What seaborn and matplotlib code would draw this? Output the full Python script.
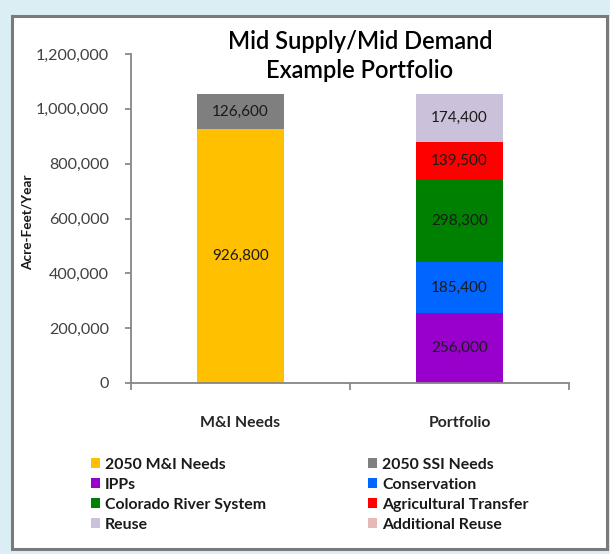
import matplotlib
matplotlib.use("Agg")
import matplotlib.pyplot as plt
from matplotlib.patches import Rectangle, Patch
from matplotlib.ticker import FuncFormatter
import seaborn as sns
import pandas as pd
import numpy as np

# ---- data ----
categories = ["M&I Needs", "Portfolio"]
segments = ["2050 M&I Needs", "2050 SSI Needs", "IPPs", "Conservation",
            "Colorado River System", "Agricultural Transfer", "Reuse", "Additional Reuse"]
seg_category = ["M&I Needs", "M&I Needs", "Portfolio", "Portfolio",
                "Portfolio", "Portfolio", "Portfolio", "Portfolio"]
seg_values = [926800, 126600, 256000, 185400, 298300, 139500, 174400, 0]
seg_colors = ["#FFC000", "#7F7F7F", "#9900CC", "#0066FF",
              "#008000", "#FF0000", "#CCC1DA", "#E6B9B8"]
legend_order = ["2050 M&I Needs", "IPPs", "Colorado River System", "Reuse",
                "2050 SSI Needs", "Conservation", "Agricultural Transfer", "Additional Reuse"]
yticks = [0, 200000, 400000, 600000, 800000, 1000000, 1200000]
title = "Mid Supply/Mid Demand\nExample Portfolio"
ylabel = "Acre-Feet/Year"

# ---- build table with cumulative tops ----
df = pd.DataFrame({"category": seg_category, "segment": segments, "value": seg_values})
df["top"] = df.groupby("category")["value"].cumsum()
df["bottom"] = df["top"] - df["value"]
palette = dict(zip(segments, seg_colors))
# draw tallest cumulative first so lower segments overlay
draw_order = list(df.sort_values(["top", "bottom"], ascending=[False, False])["segment"])

font = "Lato"
plt.rcParams["font.family"] = [font, "DejaVu Sans"]

fig = plt.figure(figsize=(6.1, 5.54), dpi=100)
fig.patch.set_facecolor("#DAEEF3")
W, H = 610, 554
fig.patches.append(Rectangle((12 / W, 1 - 549 / H), 595 / W, 533 / H,
                             transform=fig.transFigure, facecolor="white",
                             edgecolor="#7a7a7a", linewidth=2.2, zorder=-5))

ax = fig.add_axes([131 / W, 1 - 383 / H, 438 / W, (383 - 54) / H])
ax.set_zorder(2)
ax.set_facecolor("none")

sns.barplot(data=df, x="category", y="top", hue="segment", hue_order=draw_order,
            order=categories, palette=palette, dodge=False, width=0.4,
            saturation=1, legend=False, ax=ax, linewidth=0)

# segment value labels
cat_pos = {c: i for i, c in enumerate(categories)}
for _, r in df.iterrows():
    if r["value"] > 0:
        ax.text(cat_pos[r["category"]], (r["bottom"] + r["top"]) / 2,
                f"{r['value']:,}", ha="center", va="center",
                fontsize=11, color="#1a1a1a")

ax.set_xlim(-0.5, 1.5)
ax.set_ylim(0, 1200000)
ax.set_yticks(yticks)
ax.yaxis.set_major_formatter(FuncFormatter(lambda v, p: f"{int(v):,}"))
ax.tick_params(axis="y", labelsize=11.6, colors="#7f7f7f", labelcolor="#404040",
               length=4, width=1.2, pad=12)
ax.set_xticks([-0.5, 0.5, 1.5])
ax.set_xticklabels([])
ax.set_xticks([0, 1], minor=True)
ax.set_xticklabels(categories, minor=True, fontsize=11.4, fontweight="bold", color="#262626")
ax.tick_params(axis="x", which="major", length=5, width=1.2, colors="#7f7f7f", direction="out")
ax.tick_params(axis="x", which="minor", length=0, pad=24)
for s in ["top", "right"]:
    ax.spines[s].set_visible(False)
for s in ["left", "bottom"]:
    ax.spines[s].set_color("#868686")
    ax.spines[s].set_linewidth(1.3)
ax.set_xlabel("")
ax.set_ylabel(ylabel, fontsize=9.8, fontweight="bold", color="#1a1a1a")
ax.yaxis.set_label_coords(-0.222, 0.49)

fig.text(360 / W, 1 - 56 / H, title, ha="center", va="center", fontsize=17,
         fontweight="semibold", linespacing=1.3, color="black", zorder=3)

handles = [Patch(facecolor=palette[s], edgecolor="none") for s in legend_order]
leg = fig.legend(handles, legend_order, ncol=2, loc="upper left",
                 bbox_to_anchor=(91 / W, 1 - 458 / H), frameon=False, borderpad=0,
                 borderaxespad=0,
                 prop={"family": [font, "DejaVu Sans"], "weight": "bold", "size": 11.4},
                 handlelength=0.58, handleheight=0.58, handletextpad=0.3,
                 labelspacing=0.37, columnspacing=6.45)
for t in leg.get_texts():
    t.set_color("#1a1a1a")

fig.savefig("out.png", dpi=100, facecolor=fig.get_facecolor())
